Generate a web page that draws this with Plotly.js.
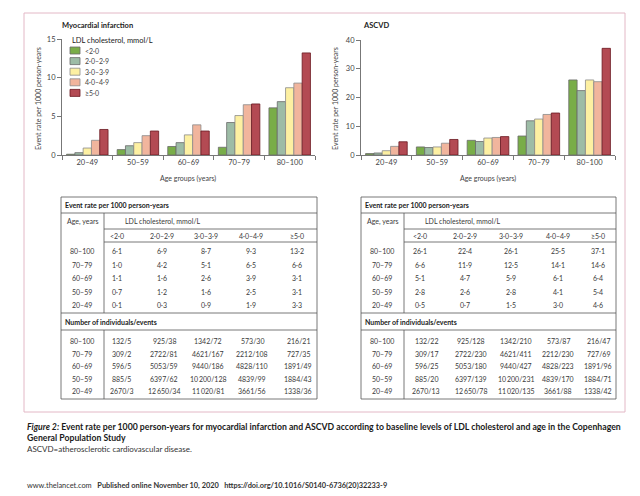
<!DOCTYPE html>
<html><head><meta charset="utf-8">
<script src="https://cdn.plot.ly/plotly-3.0.1.min.js"></script>
<style>html,body{margin:0;padding:0;background:#fff;}#chart{width:640px;height:496px;}</style>
</head><body><div id="chart"></div>
<script>
// ---------- data ----------
const ageGroups = ['20–49', '50–59', '60–69', '70–79', '80–100'];
const ldlGroups = ['<2·0', '2·0–2·9', '3·0–3·9', '4·0–4·9', '≥5·0'];

// Myocardial infarction, event rate per 1000 person-years (by age group, 20–49 … 80–100)
const miLt2 = [0.1, 0.7, 1.1, 1.0, 6.1];
const mi2to29 = [0.3, 1.2, 1.6, 4.2, 6.9];
const mi3to39 = [0.9, 1.6, 2.6, 5.1, 8.7];
const mi4to49 = [1.9, 2.5, 3.9, 6.5, 9.3];
const miGe5 = [3.3, 3.1, 3.1, 6.6, 13.2];

// ASCVD, event rate per 1000 person-years
const asLt2 = [0.5, 2.8, 5.1, 6.6, 26.1];
const as2to29 = [0.7, 2.6, 4.7, 11.9, 22.4];
const as3to39 = [1.5, 2.8, 5.9, 12.5, 26.1];
const as4to49 = [3.0, 4.1, 6.1, 14.1, 25.5];
const asGe5 = [4.6, 5.4, 6.4, 14.6, 37.1];

// Number of individuals (same for both outcomes)
const indLt2 = [2670, 885, 596, 309, 132];
const ind2to29 = [12650, 6397, 5053, 2722, 925];
const ind3to39 = [11020, 10200, 9440, 4621, 1342];
const ind4to49 = [3661, 4839, 4828, 2212, 573];
const indGe5 = [1338, 1884, 1891, 727, 216];

// Number of events, myocardial infarction
const miEvLt2 = [3, 5, 5, 2, 5];
const miEv2to29 = [34, 62, 59, 81, 38];
const miEv3to39 = [81, 128, 186, 167, 72];
const miEv4to49 = [56, 99, 110, 108, 30];
const miEvGe5 = [36, 43, 49, 35, 21];

// Number of events, ASCVD
const asEvLt2 = [13, 20, 25, 17, 22];
const asEv2to29 = [78, 139, 180, 230, 128];
const asEv3to39 = [135, 231, 427, 411, 210];
const asEv4to49 = [88, 170, 223, 230, 87];
const asEvGe5 = [42, 71, 96, 69, 47];

const miRates = [miLt2, mi2to29, mi3to39, mi4to49, miGe5];
const asRates = [asLt2, as2to29, as3to39, as4to49, asGe5];
const individuals = [indLt2, ind2to29, ind3to39, ind4to49, indGe5];
const miEvents = [miEvLt2, miEv2to29, miEv3to39, miEv4to49, miEvGe5];
const asEvents = [asEvLt2, asEv2to29, asEv3to39, asEv4to49, asEvGe5];

// ---------- styles ----------
const barColors = ['#79ad48', '#9dbca6', '#fdf0a2', '#f1b59d', '#b34a53'];
const barLines = ['#6a6a6a', '#6a6a6a', '#8a8a8a', '#8a8a8a', '#6a1820'];
const FONT = 'Lato, "Open Sans", sans-serif';
const W = 640, H = 496;
const px = x => x / W;
const py = y => 1 - y / H;

const traces = [];
ldlGroups.forEach((g, i) => {
  traces.push({type: 'bar', name: g, x: ageGroups, y: miRates[i], xaxis: 'x', yaxis: 'y',
    marker: {color: barColors[i], line: {color: barLines[i], width: 0.8}}, showlegend: false, hoverinfo: 'x+y+name'});
  traces.push({type: 'bar', name: g, x: ageGroups, y: asRates[i], xaxis: 'x2', yaxis: 'y2',
    marker: {color: barColors[i], line: {color: barLines[i], width: 0.8}}, showlegend: false, hoverinfo: 'x+y+name'});
});

const annotations = [];
const shapes = [];
function txt(x, y, text, opts = {}) {
  annotations.push(Object.assign({xref: 'paper', yref: 'paper', x: px(x), y: py(y), text: text,
    showarrow: false, xanchor: 'center', yanchor: 'middle',
    font: {family: FONT, size: 7, color: '#3a3a3a'}}, opts));
}
function line(x0, y0, x1, y1, color = '#555', width = 0.8) {
  shapes.push({type: 'line', xref: 'paper', yref: 'paper', x0: px(x0), y0: py(y0), x1: px(x1), y1: py(y1),
    line: {color: color, width: width}});
}

// outer pink frame
shapes.push({type: 'rect', xref: 'paper', yref: 'paper', x0: px(24), y0: py(412), x1: px(625), y1: py(13),
  line: {color: '#e3b8c6', width: 1}});

// panel titles
txt(60, 25, '<b>Myocardial infarction</b>', {xanchor: 'left', font: {family: FONT, size: 7.5, color: '#222'}});
txt(361, 25, '<b>ASCVD</b>', {xanchor: 'left', font: {family: FONT, size: 7.5, color: '#222'}});

// axis titles
const yTitle = 'Event rate per 1000 person-years';
txt(38, 99, yTitle, {textangle: -90, font: {family: FONT, size: 7, color: '#444'}});
txt(335, 99, yTitle, {textangle: -90, font: {family: FONT, size: 7, color: '#444'}});
txt(188, 179, 'Age groups (years)', {font: {family: FONT, size: 7, color: '#444'}});
txt(488, 179, 'Age groups (years)', {font: {family: FONT, size: 7, color: '#444'}});

// legend (manual, compact)
txt(70, 40, 'LDL cholesterol, mmol/L', {xanchor: 'left', font: {family: FONT, size: 7.5, color: '#222'}});
ldlGroups.forEach((g, i) => {
  const yc = 50.5 + i * 10.6;
  shapes.push({type: 'rect', xref: 'paper', yref: 'paper', x0: px(70), x1: px(80), y0: py(yc + 3.5), y1: py(yc - 3.5),
    fillcolor: barColors[i], line: {color: barLines[i], width: 0.8}});
  txt(83, yc, g.replace('<', '&lt;'), {xanchor: 'left', font: {family: FONT, size: 7, color: '#444'}});
});

// ---------- tables ----------
const fmtRate = v => v.toFixed(1).replace('.', '·');
const fmtNum = v => v >= 10000 ? String(v).replace(/(\d{2})(\d{3})$/, '$1\u2009$2') : String(v);

function table(x0, x1, xDiv, ageX, cols, lowCols, rates, events) {
  const top = 197, bottom = 399;
  shapes.push({type: 'rect', xref: 'paper', yref: 'paper', x0: px(x0), x1: px(x1), y0: py(bottom), y1: py(top),
    line: {color: '#555', width: 0.8}});
  line(x0, 213, x1, 213);
  line(xDiv, 213, xDiv, 313);
  line(xDiv, 229, x1, 229);
  line(xDiv, 242, x1, 242);
  line(x0, 313, x1, 313);
  line(x0, 330, x1, 330);
  line(xDiv, 330, xDiv, bottom);
  txt(x0 + 2, 205, '<b>Event rate per 1000 person-years</b>', {xanchor: 'left', font: {family: FONT, size: 7, color: '#222'}});
  txt(ageX, 221, 'Age, years');
  txt(xDiv + 59, 221, 'LDL cholesterol, mmol/L');
  ldlGroups.forEach((g, j) => txt(cols[j], 235.5, g.replace('<', '&lt;')));
  txt(x0 + 2, 322, '<b>Number of individuals/events</b>', {xanchor: 'left', font: {family: FONT, size: 7, color: '#222'}});
  for (let r = 0; r < ageGroups.length; r++) {
    const a = ageGroups.length - 1 - r; // oldest first
    const yr = 251 + r * 13.5;
    const yl = 341 + r * 12.5;
    txt(ageX, yr, ageGroups[a]);
    txt(ageX, yl, ageGroups[a]);
    for (let j = 0; j < ldlGroups.length; j++) {
      txt(cols[j], yr, fmtRate(rates[j][a]));
      txt(lowCols[j], yl, fmtNum(individuals[j][a]) + '/' + events[j][a]);
    }
  }
}
table(61, 317, 104, 82, [117, 162, 206, 251, 297], [121, 164, 208, 252, 298], miRates, miEvents);
table(361, 616, 404, 382, [420, 465, 511, 558, 598], [426, 471, 516, 558, 598], asRates, asEvents);

// ---------- caption & footer ----------
txt(25, 426, '<b><i>Figure 2:</i> Event rate per 1000 person-years for myocardial infarction and ASCVD according to baseline levels of LDL cholesterol and age in the Copenhagen</b>',
  {xanchor: 'left', font: {family: FONT, size: 8.7, color: '#1a1a1a'}});
txt(25, 437.5, '<b>General Population Study</b>', {xanchor: 'left', font: {family: FONT, size: 8.7, color: '#1a1a1a'}});
txt(25, 449, 'ASCVD=atherosclerotic cardiovascular disease.', {xanchor: 'left', font: {family: FONT, size: 8, color: '#333'}});
txt(25, 485, 'www.thelancet.com   <b>Published online November 10, 2020   https://doi.org/10.1016/S0140-6736(20)32233-9</b>',
  {xanchor: 'left', font: {family: FONT, size: 7.4, color: '#333'}});

const xaxisBase = {type: 'category', showline: true, linecolor: '#777', linewidth: 1, ticks: 'outside', tickson: 'boundaries',
  ticklen: 4, tickcolor: '#777', tickfont: {family: FONT, size: 7.5, color: '#444'}, showgrid: false, zeroline: false, fixedrange: true};
const yaxisBase = {showline: true, linecolor: '#777', linewidth: 1, ticks: 'outside', ticklen: 4, tickcolor: '#777',
  tickfont: {family: FONT, size: 7.5, color: '#444'}, showgrid: false, zeroline: false, fixedrange: true};

const layout = {
  width: W, height: H, margin: {l: 0, r: 0, t: 0, b: 0}, paper_bgcolor: '#fff', plot_bgcolor: 'rgba(0,0,0,0)',
  barmode: 'group', bargap: 0.18, bargroupgap: 0, showlegend: false,
  xaxis: Object.assign({}, xaxisBase, {domain: [px(62), px(315)], anchor: 'y'}),
  yaxis: Object.assign({}, yaxisBase, {domain: [py(155), py(39)], range: [0, 15], tickvals: [0, 5, 10, 15], anchor: 'x'}),
  xaxis2: Object.assign({}, xaxisBase, {domain: [px(361), px(615)], anchor: 'y2'}),
  yaxis2: Object.assign({}, yaxisBase, {domain: [py(155), py(40)], range: [0, 40], tickvals: [0, 10, 20, 30, 40], anchor: 'x2'}),
  annotations: annotations, shapes: shapes
};
Plotly.newPlot('chart', traces, layout, {displayModeBar: false, staticPlot: true});
</script></body></html>
